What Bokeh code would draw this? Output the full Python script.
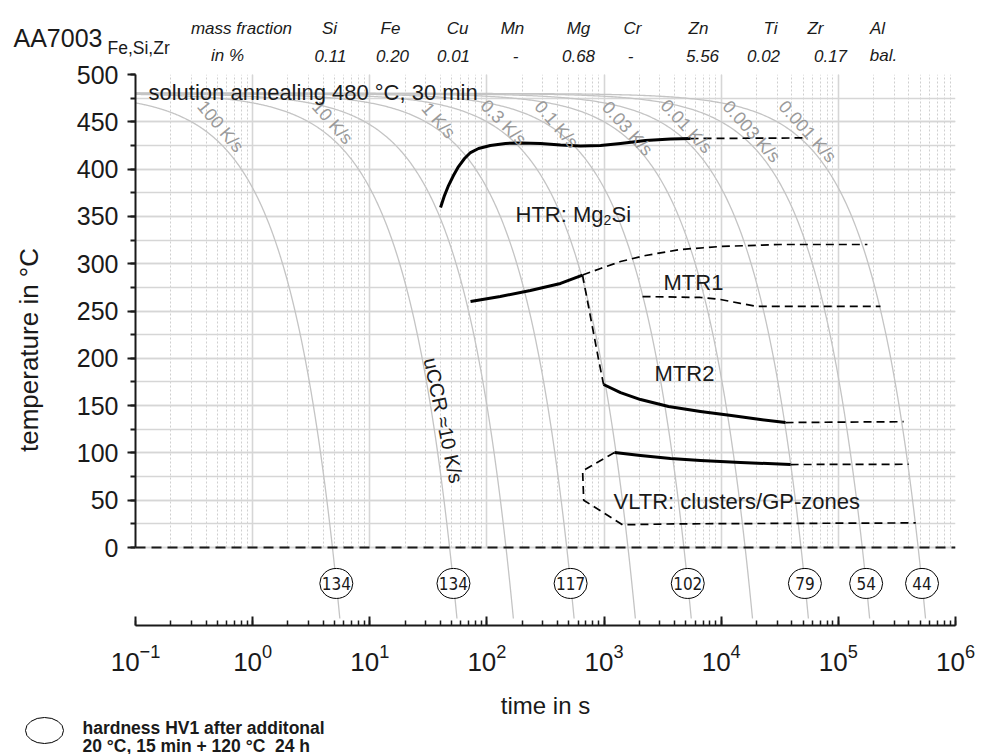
import numpy as np
from bokeh.plotting import figure
from bokeh.models import Range1d, SingleIntervalTicker, Label, Span
from bokeh.embed import file_html
from bokeh.resources import INLINE
from bokeh.core.properties import value

# ---------------- data ----------------
start_temp = 480.0          # solution annealing temperature, °C
end_temp = -75.0            # cooling lines drawn down to here (below 0 for the hardness marks)
circle_temp = -38.0         # level of the hardness marks
cooling_rates = [100, 10, 3.3, 1, 0.3, 0.1, 0.03, 0.01, 0.003, 0.001]
rate_labels = ["100 K/s", "10 K/s", "1 K/s", "0.3 K/s", "0.1 K/s", "0.03 K/s",
               "0.01 K/s", "0.003 K/s", "0.001 K/s"]
hardness_rates = [100, 10, 1, 0.1, 0.01, 0.003, 0.001]
hardness_hv1 = [134, 134, 117, 102, 79, 54, 44]

htr_time = [40.2, 43.4, 47.0, 51.8, 57.2, 64.4, 72.4, 84.8, 107, 144, 194, 287, 425,
            630, 933, 1382, 2258, 3693, 5470]
htr_temp = [359.4, 372, 382.6, 393.2, 402.7, 411.2, 417.5, 421.8, 425, 427.1, 427.7,
            427.1, 425.5, 424.5, 425, 427.1, 430.2, 431.8, 432.3]
htr_ext_time = [5470, 54800]
htr_ext_temp = [432.3, 433]

mtr1_time = [72.4, 130, 235, 425, 655]
mtr1_temp = [260, 265.3, 271.7, 279.1, 288]
mtr1_upper_time = [655, 933, 1382, 2258, 4494, 9860, 32100, 177000]
mtr1_upper_temp = [288, 294.9, 302.3, 308.7, 315, 318.2, 320.3, 320.3]
mtr1_lower_time = [2130, 6650, 9860, 14600, 20400, 229000]
mtr1_lower_temp = [265.3, 264.3, 262.2, 258, 254.8, 254.8]
mtr_link_time = [655, 900, 990]
mtr_link_temp = [288, 198, 172.3]

mtr2_time = [990, 1382, 2047, 3550, 6650, 12200, 21600, 35400]
mtr2_temp = [172.3, 163.8, 156.4, 149, 143.8, 139.5, 135.3, 132.1]
mtr2_ext_time = [35400, 361000]
mtr2_ext_temp = [132.1, 133]

vltr_time = [1228, 2047, 3693, 6650, 14600, 39100]
vltr_temp = [100.4, 97.3, 94.1, 92, 89.9, 87.7]
vltr_ext_time = [39100, 399000]
vltr_ext_temp = [87.7, 88]
vltr_bound_time = [1228, 656, 670, 1440, 3930, 458000]
vltr_bound_temp = [100.4, 81, 50, 24, 25, 26]

elements = ["Si", "Fe", "Cu", "Mn", "Mg", "Cr", "Zn", "Ti", "Zr", "Al"]
fractions = ["0.11", "0.20", "0.01", "-", "0.68", "-", "5.56", "0.02", "0.17", "bal."]

# ---------------- layout helpers (pixel -> data for annotation placement) ----------------
FL, FR, FT, FB = 135, 955, 74, 625
X_LO, X_HI = 0.1, 1e6
Y_HI = 500.0
Y_LO = Y_HI - (FB - FT) * 500.0 / (547 - 74)


def dx(px):
    return 10 ** (np.log10(X_LO) + (px - FL) / (FR - FL) * (np.log10(X_HI) - np.log10(X_LO)))


def dy(py):
    return Y_HI - (py - FT) / (FB - FT) * (Y_HI - Y_LO)


FONT = "Liberation Sans"
INK = "#1a1a1a"

p = figure(width=988, height=754, x_axis_type="log",
           x_range=Range1d(X_LO, X_HI), y_range=Range1d(Y_LO, Y_HI),
           output_backend="svg", toolbar_location=None,
           min_border_left=FL, min_border_right=988 - FR,
           min_border_top=FT, min_border_bottom=754 - FB)
p.outline_line_color = None
p.background_fill_color = "white"
p.border_fill_color = "white"

# ---- axes ----
yax = p.yaxis[0]
yax.ticker = SingleIntervalTicker(interval=50, num_minor_ticks=2)
yax.bounds = (0, 500)
yax.axis_label = "temperature in °C"
yax.axis_label_text_font = FONT
yax.axis_label_text_font_size = "26px"
yax.axis_label_text_font_style = "normal"
yax.axis_label_text_color = INK
yax.axis_label_standoff = 30
yax.major_label_text_font = FONT
yax.major_label_text_font_size = "25px"
yax.major_label_text_color = INK
yax.major_label_standoff = 9
yax.axis_line_width = 2
yax.axis_line_color = INK
yax.major_tick_line_color = INK
yax.minor_tick_line_color = INK
yax.major_tick_line_width = 2
yax.minor_tick_line_width = 2
yax.major_tick_in = 0
yax.major_tick_out = 8
yax.minor_tick_in = 0
yax.minor_tick_out = 5

xax = p.xaxis[0]
xax.axis_label = "time in s"
xax.axis_label_text_font = FONT
xax.axis_label_text_font_size = "24px"
xax.axis_label_text_font_style = "normal"
xax.axis_label_text_color = INK
xax.axis_label_standoff = 18
xax.major_label_text_font = FONT
xax.major_label_text_font_size = "26px"
xax.major_label_text_color = INK
xax.major_label_standoff = 18
xax.axis_line_width = 2
xax.axis_line_color = INK
xax.major_tick_line_color = INK
xax.minor_tick_line_color = INK
xax.major_tick_line_width = 2
xax.minor_tick_line_width = 1.5
xax.major_tick_in = 9
xax.major_tick_out = 0
xax.minor_tick_in = 5
xax.minor_tick_out = 0

# ---- grid ----
p.ygrid.grid_line_color = "#d6d6d6"
p.ygrid.grid_line_width = 1.6
p.ygrid.minor_grid_line_color = "#d6d6d6"
p.ygrid.minor_grid_line_width = 1.6
p.xgrid.grid_line_color = "#d6d6d6"
p.xgrid.grid_line_width = 1.6
p.xgrid.minor_grid_line_color = "#cfcfcf"
p.xgrid.minor_grid_line_width = 1
p.xgrid.minor_grid_line_dash = "2 2"
p.xgrid.cross_bounds = (0, 500)

# ---- cooling lines ----
for r in cooling_rates:
    t = np.logspace(np.log10(X_LO), np.log10((start_temp - end_temp) / r), 400)
    p.line(t, start_temp - r * t, line_color="#c4c4c4", line_width=1.3)

rate_pos = [(220, 126, -50), (332, 122, -48), (438, 120, -49), (503, 122, -45),
            (556, 124, -49), (627, 128, -48), (686, 126, -47), (751, 131, -48),
            (807, 131, -48)]
for lab_text, (px, py, ang) in zip(rate_labels, rate_pos):
    p.add_layout(Label(x=dx(px), y=dy(py), text=lab_text, angle=ang, angle_units="deg",
                       text_align="center", text_baseline="middle",
                       text_font=FONT, text_font_size="18px", text_color="#9a9a9a"))

# zero line
p.add_layout(Span(location=0, dimension="width", line_color=INK, line_width=2,
                  line_dash="10 6"))

# ---- transformation lines ----
SOLID = dict(line_color="black", line_width=3, line_join="round")
DASH = dict(line_color="black", line_width=1.7, line_dash="8 5")
p.line(htr_time, htr_temp, **SOLID)
p.line(htr_ext_time, htr_ext_temp, **DASH)
p.line(mtr1_time, mtr1_temp, **SOLID)
p.line(mtr1_upper_time, mtr1_upper_temp, **DASH)
p.line(mtr1_lower_time, mtr1_lower_temp, **DASH)
p.line(mtr_link_time, mtr_link_temp, **DASH)
p.line(mtr2_time, mtr2_temp, **SOLID)
p.line(mtr2_ext_time, mtr2_ext_temp, **DASH)
p.line(vltr_time, vltr_temp, **SOLID)
p.line(vltr_ext_time, vltr_ext_temp, **DASH)
p.line(vltr_bound_time, vltr_bound_temp, **DASH)

# ---- hardness marks ----
hx = [(start_temp - circle_temp) / r for r in hardness_rates]
hy = [circle_temp] * len(hardness_rates)
p.ellipse(hx, hy, width=33, height=30, width_units="screen", height_units="screen",
          fill_color="white", line_color="black", line_width=1)
p.text(hx, hy, text=[str(v) for v in hardness_hv1], text_align="center",
       text_baseline="middle", text_font=value("DejaVu Sans Condensed, Liberation Sans"),
       text_font_size="17px", text_color=INK)


# ---- texts ----
def lab(px, py, text, size="22px", align="left", style="normal", color=INK, angle=0,
        baseline="alphabetic"):
    p.add_layout(Label(x=dx(px), y=dy(py), text=text, text_align=align,
                       text_baseline=baseline, text_font=FONT, text_font_size=size,
                       text_font_style=style, text_color=color, angle=angle,
                       angle_units="deg"))


def outer(px, py, text, size="17px", align="left", style="normal"):
    # texts outside the data frame: glyphs at overlay level are not clipped
    r = p.text([dx(px)], [dy(py)], text=[text], text_align=align,
               text_baseline="alphabetic", text_font=value(FONT),
               text_font_size=size, text_font_style=style, text_color=INK)
    r.level = "overlay"


lab(148, 92, "solution annealing 480 °C, 30 min")
lab(515, 214, "HTR: Mg")
lab(603, 219, "2", size="14px")
lab(611, 214, "Si")
lab(663, 282, "MTR1")
lab(654, 373, "MTR2")
lab(613, 501, "VLTR: clusters/GP-zones")
lab(443, 420, "uCCR ≈10 K/s", size="20px", align="center", angle=-78, baseline="middle")

# ---- header ----
outer(13, 37, "AA7003", size="25px")
outer(107, 47, "Fe,Si,Zr", size="17.5px")
outer(241, 28, "mass fraction", align="center", style="italic")
outer(227, 55, "in %", align="center", style="italic")
name_px = [329, 390, 457, 512, 578, 632, 698, 770, 815, 877]
val_px = [330, 392, 453, 515, 578, 630, 702, 763, 830, 883]
for el, fr, nx, vx in zip(elements, fractions, name_px, val_px):
    outer(nx, 28, el, align="center", style="italic")
    outer(vx, 55, fr, align="center", style="italic")

# ---- legend for the hardness marks ----
lr = p.ellipse([dx(44)], [dy(730)], width=38, height=26, width_units="screen",
               height_units="screen", fill_color="white", line_color="black",
               line_width=1)
lr.level = "overlay"
outer(82, 727, "hardness HV1 after additonal", size="17.5px", style="bold")
outer(82, 745, "20 °C, 15 min + 120 °C\u00a0 24 h", size="17.5px", style="bold")

open("out.html", "w").write(file_html(p, INLINE))
